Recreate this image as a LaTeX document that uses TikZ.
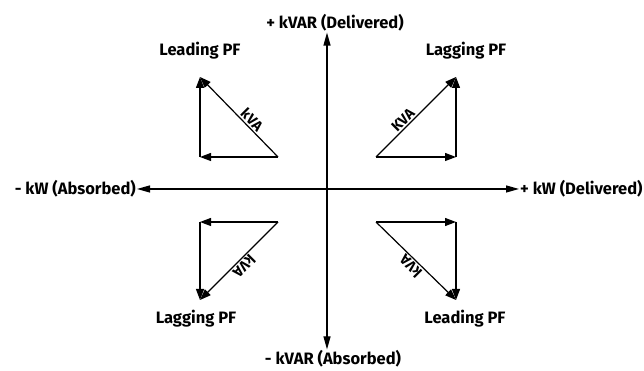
\documentclass[tikz,border=0pt]{standalone}
\usepackage{fontspec}
\setmainfont{Fira Sans}
\usetikzlibrary{arrows.meta}
\tikzset{
  lbl/.style={font=\fontsize{16.5}{18}\selectfont\bfseries, inner sep=1pt},
  kva/.style={font=\fontsize{14.5}{16}\selectfont\bfseries, inner sep=1.5pt, anchor=south},
  axisline/.style={{Triangle[length=13pt,width=7pt]}-{Triangle[length=13pt,width=7pt]}, line width=1.2pt},
  vec/.style={-{Triangle[length=11pt,width=8pt]}, line width=1.2pt},
}
\begin{document}
\begin{tikzpicture}[x=1pt,y=1pt]
  \useasboundingbox (0,0) rectangle (644,371);
  % axes
  \coordinate (O) at (327,182);
  \node[lbl] (varpos) at (335,348) {+ kVAR (Delivered)};
  \node[lbl] (varneg) at (333,12) {- kVAR (Absorbed)};
  \node[lbl, anchor=east] (wneg) at (137,182) {- kW (Absorbed)};
  \node[lbl, anchor=west] (wpos) at (519,182) {+ kW (Delivered)};
  \draw[axisline] (wneg) -- (wpos);
  \draw[axisline] (O |- varneg.north) -- (O |- varpos.south);
  % quadrant labels
  \node[lbl] (tl) at (200,320) {Leading PF};
  \node[lbl] (tr) at (466,320) {Lagging PF};
  \node[lbl] (bl) at (196,52) {Lagging PF};
  \node[lbl] (br) at (465,52) {Leading PF};
  % triangle corners
  \coordinate (a1) at (200,214); \coordinate (b1) at (278,214); \coordinate (c1) at (200,294);
  \coordinate (a2) at (376,214); \coordinate (b2) at (456,214); \coordinate (c2) at (456,294);
  \coordinate (a3) at (200,149); \coordinate (b3) at (278,149); \coordinate (c3) at (200,71);
  \coordinate (a4) at (376,149); \coordinate (b4) at (456,149); \coordinate (c4) at (456,71);
  % upper left
  \draw[vec] (b1) -- (a1);
  \draw[vec] (a1) -- (c1);
  \draw[vec] (b1) -- node[kva, pos=0.4, rotate=-45] {kVA} (c1);
  % upper right
  \draw[vec] (a2) -- (b2);
  \draw[vec] (b2) -- (c2);
  \draw[vec] (a2) -- node[kva, pos=0.4, rotate=45] {KVA} (c2);
  % lower left
  \draw[vec] (b3) -- (a3);
  \draw[vec] (a3) -- (c3);
  \draw[vec] (b3) -- node[kva, pos=0.5, rotate=225] {kVA} (c3);
  % lower right
  \draw[vec] (a4) -- (b4);
  \draw[vec] (b4) -- (c4);
  \draw[vec] (a4) -- node[kva, pos=0.5, rotate=135] {kVA} (c4);
\end{tikzpicture}
\end{document}
